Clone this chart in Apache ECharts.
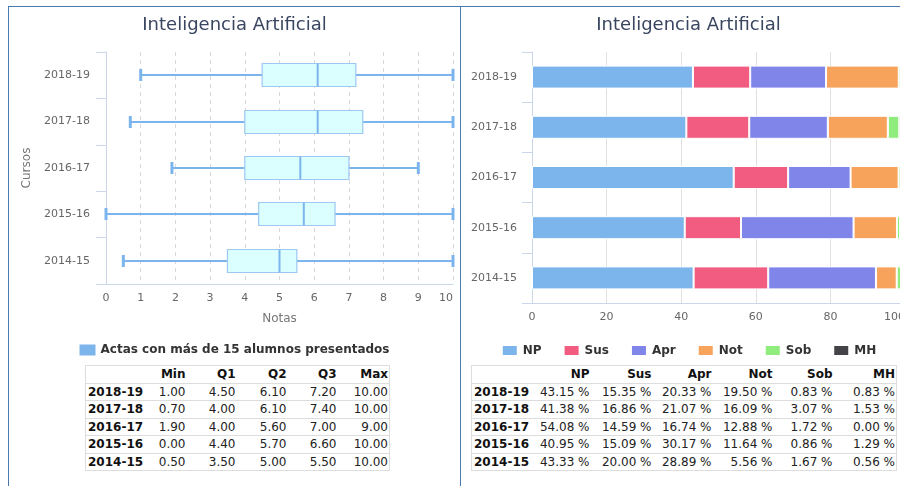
<html>
<head>
<meta charset="utf-8"/>
<title>Inteligencia Artificial</title>
<script src="https://cdn.jsdelivr.net/npm/echarts@6/dist/echarts.min.js"></script>
<style>
  body { margin: 0; overflow: hidden; background: #fff; font-family: 'DejaVu Sans', sans-serif; }
  .panel { position: absolute; top: 6px; height: 520px; box-sizing: border-box; border: 1px solid #4a79ad; border-bottom: none; }
  .chart { position: absolute; top: 7px; }
  table { position: absolute; border-collapse: collapse; table-layout: fixed; font-size: 12px; color: #222; border: 1px solid #ddd; }
  td, th { height: 17.5px; padding: 0 1px 0 2px; text-align: right; border-bottom: 1px solid #ddd; white-space: nowrap; overflow: hidden; box-sizing: border-box; }
  th { font-weight: bold; color: #111; }
  td.lab { text-align: left; font-weight: bold; color: #111; }
</style>
</head>
<body>
<div class="panel" style="left:8px;width:453px;"></div>
<div class="panel" style="left:460px;width:460px;"></div>
<div id="boxes" class="chart" style="left:9px;width:451px;height:356px;"></div>
<div id="bars" class="chart" style="left:461px;width:455px;height:356px;"></div>
<table id="tabBox" style="left:85px;top:365px;width:304px;"></table>
<table id="tabBar" style="left:471px;top:365px;width:425px;"></table>

<script type="text/javascript">
// datos
var cursos = ['2018-19', '2017-18', '2016-17', '2015-16', '2014-15'];
var notaMin = [1.00, 0.70, 1.90, 0.00, 0.50];
var notaQ1 = [4.50, 4.00, 4.00, 4.40, 3.50];
var notaQ2 = [6.10, 6.10, 5.60, 5.70, 5.00];
var notaQ3 = [7.20, 7.40, 7.00, 6.60, 5.50];
var notaMax = [10.00, 10.00, 9.00, 10.00, 10.00];

var pctNP = [43.15, 41.38, 54.08, 40.95, 43.33];
var pctSus = [15.35, 16.86, 14.59, 15.09, 20.00];
var pctApr = [20.33, 21.07, 16.74, 30.17, 28.89];
var pctNot = [19.50, 16.09, 12.88, 11.64, 5.56];
var pctSob = [0.83, 3.07, 1.72, 0.86, 1.67];
var pctMH = [0.83, 1.53, 0.00, 1.29, 0.56];

var titulo = 'Inteligencia Artificial';
var nombreActas = 'Actas con más de 15 alumnos presentados';
var colBox = ['Min', 'Q1', 'Q2', 'Q3', 'Max'];
var colBar = ['NP', 'Sus', 'Apr', 'Not', 'Sob', 'MH'];
var colores = ['#7cb5ec', '#f15c80', '#8085e9', '#f7a35c', '#90ed7d', '#434348'];

var fuente = 'DejaVu Sans';
var azul = '#7cb5ec';

// ---- diagrama de cajas ----
function cajaItem(params, api) {
    var i = api.value(0);
    var lo = api.coord([api.value(1), i]);
    var q1 = api.coord([api.value(2), i]);
    var md = api.coord([api.value(3), i]);
    var q3 = api.coord([api.value(4), i]);
    var hi = api.coord([api.value(5), i]);
    var band = api.size([0, 1])[1];
    var h = Math.round(band * 0.5);
    var ch = Math.round(band * 0.25);
    var cy = Math.round(lo[1]);
    var top = cy - h / 2;
    return {
        type: 'group',
        children: [
            { type: 'line', shape: { x1: lo[0], y1: cy, x2: q1[0], y2: cy }, style: { stroke: azul, lineWidth: 2 } },
            { type: 'line', shape: { x1: q3[0], y1: cy, x2: hi[0], y2: cy }, style: { stroke: azul, lineWidth: 2 } },
            { type: 'rect', shape: { x: q1[0], y: top, width: q3[0] - q1[0], height: h }, style: { fill: '#dbffff', stroke: '#9dc8f2', lineWidth: 1.2 } },
            { type: 'line', shape: { x1: md[0], y1: top, x2: md[0], y2: top + h }, style: { stroke: azul, lineWidth: 2 } },
            { type: 'rect', shape: { x: lo[0] - 1.5, y: cy - ch / 2, width: 3, height: ch }, style: { fill: azul } },
            { type: 'rect', shape: { x: hi[0] - 1.5, y: cy - ch / 2, width: 3, height: ch }, style: { fill: azul } }
        ]
    };
}

var cajas = cursos.map(function (c, i) {
    return [i, notaMin[i], notaQ1[i], notaQ2[i], notaQ3[i], notaMax[i]];
});

var chartBox = echarts.init(document.getElementById('boxes'));
chartBox.setOption({
    animation: false,
    textStyle: { fontFamily: fuente },
    title: {
        text: titulo, left: 'center', top: 4,
        textStyle: { fontFamily: fuente, fontSize: 18, fontWeight: 'normal', color: '#3a4660' }
    },
    legend: {
        data: [{ name: nombreActas, icon: 'rect' }],
        left: 'center', top: 332, itemWidth: 16, itemHeight: 11,
        textStyle: { fontFamily: fuente, fontSize: 12, fontWeight: 'bold', color: '#333' }
    },
    grid: { left: 97, top: 45, width: 347, height: 232 },
    xAxis: {
        type: 'value', min: 0, max: 10, interval: 1,
        name: 'Notas', nameLocation: 'middle', nameGap: 29,
        nameTextStyle: { fontFamily: fuente, fontSize: 12, color: '#777' },
        axisLine: { show: true, lineStyle: { color: '#ccd6eb' } },
        axisTick: { show: false },
        axisLabel: { fontFamily: fuente, fontSize: 11, color: '#666', margin: 9, alignMaxLabel: 'right' },
        splitLine: { show: true, lineStyle: { color: '#d8d8d8', type: [4, 4] } }
    },
    yAxis: {
        type: 'category', data: cursos, inverse: true,
        name: 'Cursos', nameLocation: 'middle', nameGap: 67, nameRotate: 90,
        nameTextStyle: { fontFamily: fuente, fontSize: 12, color: '#777' },
        axisLine: { show: true, lineStyle: { color: '#ccd6eb' } },
        axisTick: { show: true, length: 10, lineStyle: { color: '#ccd6eb' } },
        axisLabel: { fontFamily: fuente, fontSize: 11, color: '#666', margin: 16 },
        splitLine: { show: false }
    },
    series: [{
        name: nombreActas,
        type: 'custom',
        renderItem: cajaItem,
        itemStyle: { color: azul },
        encode: { x: [1, 2, 3, 4, 5], y: 0 },
        data: cajas
    }]
});

// ---- barras apiladas ----
var valores = [pctNP, pctSus, pctApr, pctNot, pctSob, pctMH];
var chartBar = echarts.init(document.getElementById('bars'));
chartBar.setOption({
    animation: false,
    textStyle: { fontFamily: fuente },
    color: colores,
    title: {
        text: titulo, left: 'center', top: 4,
        textStyle: { fontFamily: fuente, fontSize: 18, fontWeight: 'normal', color: '#3a4660' }
    },
    legend: {
        data: colBar.map(function (n) { return { name: n, icon: 'rect' }; }),
        left: 'center', top: 332, itemWidth: 16, itemHeight: 11, itemGap: 21,
        textStyle: { fontFamily: fuente, fontSize: 12, fontWeight: 'bold', color: '#333' }
    },
    grid: { left: 71, top: 45, width: 373, height: 251 },
    xAxis: {
        type: 'value', min: 0, max: 100, interval: 20,
        axisLine: { show: true, lineStyle: { color: '#ccd6eb' } },
        axisTick: { show: false },
        axisLabel: { fontFamily: fuente, fontSize: 11, color: '#666', margin: 9, alignMaxLabel: 'right' },
        splitLine: { show: true, lineStyle: { color: '#e0e0e0', width: 1 } }
    },
    yAxis: {
        type: 'category', data: cursos, inverse: true,
        axisLine: { show: true, lineStyle: { color: '#ccd6eb' } },
        axisTick: { show: true, length: 10, lineStyle: { color: '#ccd6eb' } },
        axisLabel: { fontFamily: fuente, fontSize: 11, color: '#666', margin: 15 },
        splitLine: { show: false }
    },
    series: colBar.map(function (n, k) {
        return {
            name: n, type: 'bar', stack: 'total', barWidth: 23,
            itemStyle: { borderColor: '#fff', borderWidth: 1 },
            data: valores[k]
        };
    })
});

// ---- tablas ----
function tabla(id, cols, anchos, filas, fmt) {
    var html = '<colgroup>';
    anchos.forEach(function (w) { html += '<col style="width:' + w + 'px">'; });
    html += '</colgroup><tr><th></th>';
    cols.forEach(function (c) { html += '<th>' + c + '</th>'; });
    html += '</tr>';
    cursos.forEach(function (c, i) {
        html += '<tr><td class="lab">' + c + '</td>';
        filas.forEach(function (arr) { html += '<td>' + fmt(arr[i]) + '</td>'; });
        html += '</tr>';
    });
    document.getElementById(id).innerHTML = html;
}
tabla('tabBox', colBox, [58, 43, 50, 51, 50, 52], [notaMin, notaQ1, notaQ2, notaQ3, notaMax],
    function (v) { return v.toFixed(2); });
tabla('tabBar', colBar, [59, 60, 62, 60, 61, 60, 63], valores,
    function (v) { return v.toFixed(2) + ' %'; });
</script>
</body>
</html>
